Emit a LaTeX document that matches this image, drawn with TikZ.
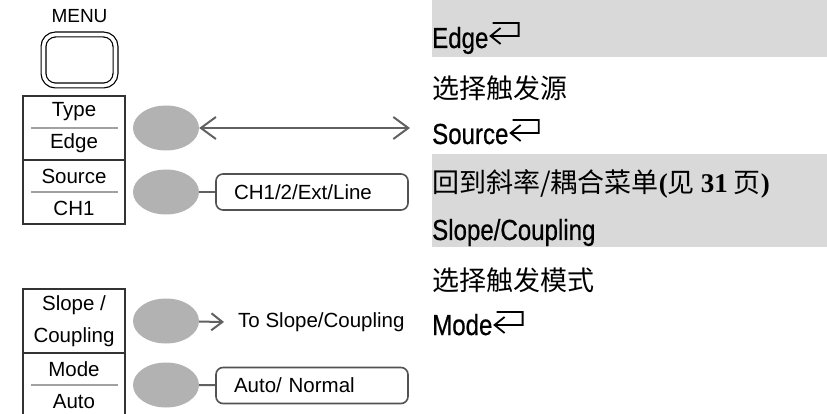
\documentclass[tikz,border=0pt]{standalone}
\usepackage{fontspec}
\setmainfont{Liberation Sans}
\newfontfamily\narrowfont{Liberation Sans}[FakeStretch=0.83, FakeBold=0.6]
\newfontfamily\cjkfont{Noto Sans CJK SC}
\newfontfamily\timesfont{Liberation Serif}
\usetikzlibrary{arrows.meta, positioning, shapes.geometric}

\begin{document}
\begin{tikzpicture}[x=1pt, y=-1pt, line join=miter,
      menubox/.style={draw=black!80, line width=1.2pt, minimum width=102pt,
                      minimum height=64pt, inner sep=0pt, align=center,
                      font=\fontsize{20.5}{32}\selectfont},
      knob/.style={ellipse, fill=black!30, minimum width=66pt,
                   minimum height=45pt, inner sep=0pt},
      valbox/.style={draw=black!68, line width=1.6pt, rounded corners=7pt,
                     minimum width=192pt, minimum height=36pt, text width=156pt,
                     inner xsep=18pt, inner ysep=0pt, align=left,
                     font=\fontsize{20.5}{24}\selectfont},
      wire/.style={draw=black!62, line width=2pt},
      sepline/.style={draw=black!37, line width=1.2pt},
      band/.style={fill=black!15},
      head/.style={font=\narrowfont\fontsize{29}{34}\selectfont,
                   inner sep=0pt, anchor=base west},
      cjk/.style={font=\cjkfont\fontsize{27}{32}\selectfont,
                  inner sep=0pt, anchor=west},
      retsym/.pic={\draw[line width=1.8pt] (2,-13) -- (28,-13) -- (28,0) -- (0,0)
                                           (10,-8) -- (0,0) -- (10,8);}]

    \useasboundingbox (0,0) rectangle (827,414);

    \def\bx{74}   % centre of the menu boxes
    \def\kx{166}  % centre of the knobs
    \def\tx{432}  % left edge of the text column

    % MENU key
    \node[font=\fontsize{19}{22}\selectfont] (menu) at (79.5,16) {MENU};
    \node[draw, double, double distance=3.6pt, line width=1.2pt, rounded corners=12pt,
          minimum width=72pt, minimum height=51pt] (menukey) at (79.5,60) {};

    % soft menu boxes
    \node[menubox] (btype)  at (\bx,128) {Type\\Edge};
    \node[menubox] (bsrc)   at (\bx,192) {Source\\CH1};
    \node[menubox] (bslope) at (\bx,321) {Slope /\\Coupling};
    \node[menubox] (bmode)  at (\bx,385) {Mode\\Auto};
    \foreach \b in {btype, bsrc, bmode}
      \draw[sepline] ([xshift=9pt]\b.west) -- ([xshift=-8pt]\b.east);

    % knobs
    \foreach \n/\y in {1/128, 2/192, 3/321, 4/385}
      \node[knob] (k\n) at (\kx,\y) {};

    % options
    \coordinate (srcend) at (410,128);
    \draw[wire, {Straight Barb[length=15pt,width=22pt]}-{Straight Barb[length=15pt,width=22pt]}]
      (k1) -- (srcend);

    \node[valbox] (chsel) at (312,192) {CH1/2/Ext/Line};
    \draw[wire] (k2) -- (chsel);

    \node[font=\fontsize{20.5}{24}\selectfont, inner sep=0pt, anchor=west]
      (toslope) at (238,322) {To Slope/Coupling};
    \draw[wire, -{Straight Barb[length=11pt,width=17pt]}] (k3) -- ([xshift=-14pt]toslope.west);

    \node[valbox] (autosel) at (312,385.5) {Auto/ Normal};
    \draw[wire] (k4) -- (autosel);

    % text column
    \fill[band] (\tx,0) rectangle (827,57);
    \fill[band] (\tx,154) rectangle (827,247);

    \node[head] (tedge) at (\tx,48) {Edge};
    \pic at ([shift={(2,-12)}]tedge.base east) {retsym};
    \node[cjk] (tsrcdesc) at (\tx,88) {选择触发源};
    \node[head] (tsrc) at (\tx,144) {Source};
    \pic at ([shift={(2,-11)}]tsrc.base east) {retsym};
    \node[cjk] (tback) at (\tx,184)
      {回到斜率/耦合菜单{\timesfont\bfseries(}见 {\timesfont\bfseries 31} 页{\timesfont\bfseries)}};
    \node[head] (tslope) at (\tx,240) {Slope/Coupling};
    \node[cjk] (tmodedesc) at (\tx,280) {选择触发模式};
    \node[head] (tmode) at (\tx,335) {Mode};
    \pic at ([shift={(2,-10)}]tmode.base east) {retsym};

\end{tikzpicture}
\end{document}
